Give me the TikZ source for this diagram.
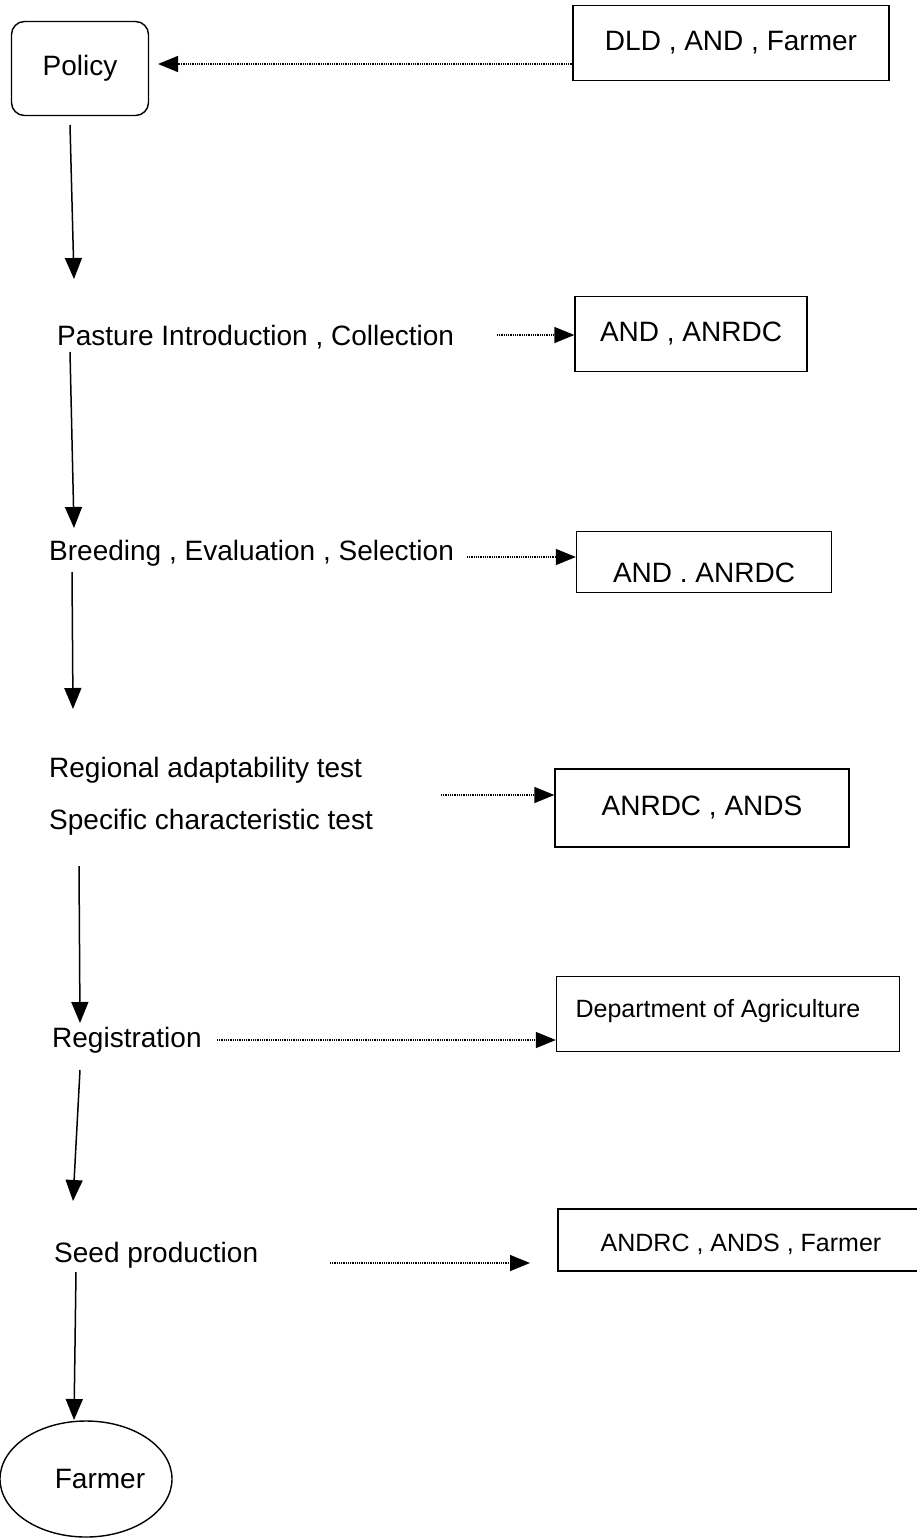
\documentclass[tikz,border=0pt]{standalone}
\usepackage{fontspec}
\setmainfont{Liberation Sans}
\usetikzlibrary{arrows.meta,shapes.geometric}
\begin{document}
\begin{tikzpicture}[x=1pt,y=-1pt,
  every node/.style={font=\fontsize{28}{32}\selectfont},
  lbl/.style={anchor=west,inner sep=0pt},
  agency/.style={draw,line width=1.3pt,inner sep=0pt},
  small/.style={font=\fontsize{25}{29}\selectfont},
  flow/.style={line width=1.5pt,-{Triangle[length=21pt,width=17pt]}},
  link/.style={line width=1.3pt,dash pattern=on 1pt off 0.8pt,-{Triangle[length=20pt,width=16pt]}}]
\useasboundingbox (0,0) rectangle (916,1539);
% main column
\node[draw,line width=1.4pt,rounded corners=13pt,minimum width=137pt,minimum height=94pt,inner sep=0pt] (policy) at (80,68.5) {Policy};
\node[lbl] (pasture) at (57,337) {Pasture Introduction , Collection};
\node[lbl] (breed) at (49,553) {Breeding , Evaluation , Selection};
\node[lbl] (regional) at (49,770) {Regional adaptability test};
\node[lbl] (specific) at (49,822) {Specific characteristic test};
\node[lbl] (regis) at (52,1040) {Registration};
\node[lbl] (seed) at (54,1255) {Seed production};
\node[draw,ellipse,line width=1.4pt,minimum width=172pt,minimum height=116pt,inner sep=0pt] (farmer) at (86,1479) {\hspace*{28pt}Farmer};
% agency boxes
\node[agency,minimum width=316pt,minimum height=75pt] (b1) at (731,43) {DLD , AND , Farmer};
\node[agency,minimum width=232pt,minimum height=75pt] (b2) at (691,334) {AND , ANRDC};
\node[agency,minimum width=255pt,minimum height=61pt] (b3) at (704,562) {};
\node at (704,573) {AND . ANRDC};
\node[agency,minimum width=294pt,minimum height=78pt] (b4) at (702,808) {ANRDC , ANDS};
\node[agency,minimum width=343pt,minimum height=75pt] (b5) at (728,1014) {};
\node[small] at (718,1011) {Department of Agriculture};
\node[agency,minimum width=360pt,minimum height=62pt] (b6) at (738,1240) {};
\node[small] at (741,1244) {ANDRC , ANDS , Farmer};
% coordinates for the hand-drawn arrows
\coordinate (p1s) at (70,125); \coordinate (p1e) at (74,279);
\coordinate (p2s) at (70,352); \coordinate (p2e) at (74,528);
\coordinate (p3s) at (72,572); \coordinate (p3e) at (73,709);
\coordinate (p4s) at (79,866); \coordinate (p4e) at (80,1023);
\coordinate (p5s) at (80,1070); \coordinate (p5e) at (73,1201);
\coordinate (p6s) at (76,1272); \coordinate (p6e) at (74,1420);
\draw[flow] (p1s) -- (p1e);
\draw[flow] (p2s) -- (p2e);
\draw[flow] (p3s) -- (p3e);
\draw[flow] (p4s) -- (p4e);
\draw[flow] (p5s) -- (p5e);
\draw[flow] (p6s) -- (p6e);
% dotted links
\coordinate (d1) at (b1.west |- 0,64);
\coordinate (d1e) at (158,64);
\draw[link] (d1) -- (d1e);
\coordinate (d2) at (497,335);
\draw[link] (d2) -- (b2.west |- d2);
\coordinate (d3) at (467,557);
\draw[link] (d3) -- (b3.west |- d3);
\coordinate (d4) at (441,795);
\draw[link] (d4) -- (b4.west |- d4);
\coordinate (d5) at (217,1040);
\draw[link] (d5) -- (b5.west |- d5);
\coordinate (d6) at (330,1263);
\coordinate (d6e) at (530,1263);
\draw[link] (d6) -- (d6e);
\end{tikzpicture}
\end{document}
